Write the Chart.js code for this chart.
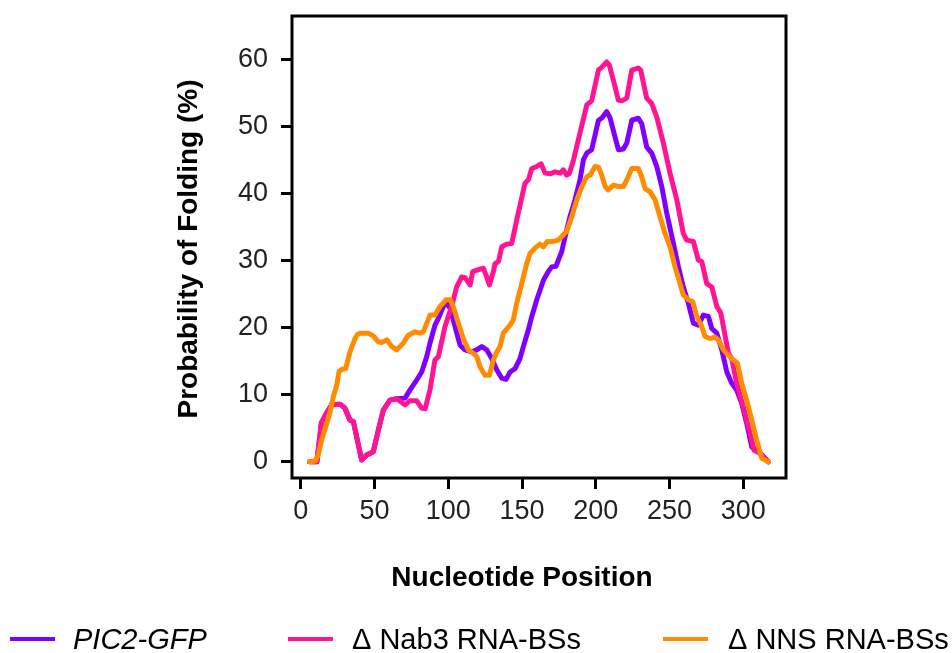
<!DOCTYPE html>
<html>
<head>
<meta charset="utf-8">
<script src="https://cdn.jsdelivr.net/npm/chart.js@4/dist/chart.umd.min.js"></script>
<style>
  html, body { margin: 0; padding: 0; background: #fff; }
</style>
</head>
<body>
<canvas id="chart" width="952" height="653"></canvas>
<script>
// folding probability along the transcript, three constructs
var pic2Pos = [6, 11, 14, 17.6, 21, 26.6, 30, 33.4, 35.7, 41.3, 44.7, 49.2, 52.6, 56, 60.5, 65, 70.7, 74, 78.6, 82, 85.4, 87.6, 91, 93.3, 96.7, 99, 101.2, 104.6, 108, 111.4, 115.9, 119.3, 122.7, 126.1, 129.5, 132.9, 136.2, 139.2, 141.9, 145.3, 148.6, 150.9, 154.3, 156.6, 160, 164.5, 167.8, 170.1, 173, 174.6, 176.9, 179.2, 182.5, 185.9, 189.3, 191.6, 193.9, 197.2, 201.8, 204, 207.4, 209.7, 213, 215.3, 218.7, 221, 224.4, 228.8, 231.1, 234.5, 237.9, 241.3, 244.7, 248.1, 252.6, 256, 259.3, 262.7, 266.1, 269.5, 272.9, 276.3, 278.6, 282, 285.4, 288.8, 292.2, 295.5, 298.9, 302.3, 305.7, 311.3, 317];
var pic2Prob = [0, 0, 5.8, 7.3, 8.5, 8.6, 8.0, 6.2, 6.0, 0.25, 1.0, 1.5, 4.7, 7.7, 9.2, 9.4, 9.5, 10.7, 12.2, 13.4, 15.7, 17.7, 20.4, 21.4, 23.2, 23.7, 22.9, 20.2, 17.4, 16.7, 16.4, 16.7, 17.2, 16.7, 15.4, 13.7, 12.5, 12.3, 13.4, 13.9, 15.4, 17.2, 19.7, 21.7, 24.2, 27.1, 28.4, 29.1, 29.2, 30.1, 31.4, 33.6, 36.6, 39.1, 42.1, 45.1, 46.1, 46.6, 51.0, 51.3, 52.3, 51.3, 48.5, 46.6, 46.7, 47.6, 51.0, 51.3, 50.5, 47.0, 46.1, 44.1, 41.1, 37.1, 32.6, 29.1, 26.1, 23.7, 20.7, 20.4, 21.9, 21.7, 19.9, 19.2, 16.7, 13.4, 11.7, 10.7, 8.7, 5.7, 2.2, 1.3, 0];

var nab3Pos = [6, 11, 14, 17.6, 21, 26.6, 30, 33.4, 35.7, 41.3, 44.7, 49.2, 52.6, 56, 60.5, 65, 70.7, 74, 78.6, 82, 84.3, 87.6, 91, 93.3, 97.8, 102.3, 105.7, 109.1, 111.4, 114.8, 116.6, 119.3, 123.8, 126.1, 127.9, 130.6, 131.7, 134, 136.3, 139.6, 143, 146.4, 152, 154.3, 156.6, 160, 162.9, 165.6, 169, 172.4, 175.8, 178, 180.3, 182, 184.8, 188.2, 193.9, 197.2, 201.8, 204, 207.4, 209.2, 211.9, 215.3, 217.6, 221, 224.4, 228.8, 230.4, 234.5, 237.9, 241.3, 245.8, 250.3, 254.9, 259.3, 261.6, 266.1, 269.5, 271.8, 275.2, 278.6, 282, 284.7, 289.9, 292.1, 295.5, 300, 304.6, 307.3, 311.3, 317];
var nab3Prob = [0, 0, 5.8, 7.3, 8.5, 8.6, 8.0, 6.2, 6.0, 0.25, 1.0, 1.5, 4.7, 7.7, 9.2, 9.4, 8.5, 9.1, 9.1, 8.0, 7.9, 10.7, 15.2, 15.7, 20.2, 23.2, 26.1, 27.6, 27.5, 26.4, 28.4, 28.6, 28.9, 27.6, 26.4, 28.4, 29.6, 29.9, 32.1, 32.5, 32.6, 36.1, 41.6, 42.1, 43.8, 44.1, 44.5, 43.1, 43.0, 43.3, 43.1, 43.6, 42.8, 43.0, 45.0, 48.1, 53.3, 53.9, 58.5, 58.9, 59.7, 59.2, 57.0, 54.0, 53.9, 54.3, 58.5, 58.8, 58.5, 54.3, 53.5, 51.5, 47.6, 43.1, 39.1, 34.1, 33.1, 32.9, 30.1, 29.9, 26.6, 26.1, 23.2, 22.2, 16.2, 15.4, 11.7, 8.2, 4.2, 1.7, 1.25, 0];

var nnsPos = [6, 9.7, 11.9, 14.2, 17.6, 20, 22.1, 24.5, 26, 28, 30.5, 33.4, 36.8, 38.5, 40.2, 45.8, 49.2, 52.6, 54.9, 58.3, 61.7, 65, 69.5, 72.9, 77.5, 80.9, 83.1, 87.6, 91, 94.4, 96.7, 98.5, 101.2, 103.4, 106.8, 110.2, 113.6, 117, 119.3, 121.5, 124.9, 127.9, 130.6, 132.9, 135.1, 137.3, 141.9, 144.1, 146.4, 149.8, 153.2, 155.4, 158.8, 162.2, 164.5, 167.2, 171.2, 174.6, 178, 180.3, 183.7, 187.1, 190.5, 193.9, 196.1, 199.5, 201.8, 204, 206.3, 208.5, 211.9, 215.3, 218.7, 221, 224.4, 228.8, 231.1, 233.4, 236.8, 240.2, 243.5, 246.9, 250.3, 253.7, 257.1, 259.3, 262.7, 265.7, 268.4, 271.8, 274, 277.4, 280.8, 283.1, 286.5, 289.9, 293.2, 296, 298.9, 302.3, 305.7, 309.1, 312.5, 317];
var nnsProb = [0, 0.1, 1.0, 3.2, 5.7, 7.5, 9.7, 11.5, 13.5, 13.8, 13.9, 16.4, 18.4, 19.0, 19.2, 19.2, 18.8, 17.9, 17.8, 18.2, 17.2, 16.7, 17.7, 18.9, 19.4, 19.2, 19.4, 21.9, 21.9, 23.2, 23.7, 24.2, 24.2, 23.2, 20.7, 18.4, 16.7, 16.2, 15.7, 14.2, 12.9, 12.9, 15.2, 16.4, 17.2, 19.2, 20.4, 21.2, 23.7, 26.6, 29.6, 31.1, 31.9, 32.5, 32.1, 32.9, 32.9, 33.1, 33.9, 34.4, 36.6, 39.1, 41.1, 42.6, 42.8, 44.1, 44.0, 42.8, 41.1, 40.6, 41.3, 41.1, 41.1, 42.1, 43.8, 43.8, 42.6, 40.8, 40.3, 39.1, 36.6, 34.1, 32.1, 29.1, 26.6, 24.9, 24.2, 23.9, 21.7, 20.2, 18.7, 18.4, 18.6, 18.2, 16.7, 15.9, 15.2, 14.7, 11.7, 9.2, 6.2, 3.2, 0.5, 0];

var seriesNames = ["PIC2-GFP", "\u0394 Nab3 RNA-BSs", "\u0394 NNS RNA-BSs"];
var seriesColors = ["#7f00ff", "#ff1493", "#ff8c00"];
var xTicks = [0, 50, 100, 150, 200, 250, 300];
var yTicks = [0, 10, 20, 30, 40, 50, 60];
var xTitle = "Nucleotide Position";
var yTitle = "Probability of Folding (%)";

const FONT = '"Liberation Sans", Arial, sans-serif';

function toPoints(xs, ys) {
  return xs.map((x, i) => ({ x: x, y: ys[i] }));
}

// orange drawn on top, purple underneath
const datasets = [
  { label: seriesNames[0], data: toPoints(pic2Pos, pic2Prob), order: 3 },
  { label: seriesNames[1], data: toPoints(nab3Pos, nab3Prob), order: 2 },
  { label: seriesNames[2], data: toPoints(nnsPos, nnsProb), order: 1 },
].map((d, i) => Object.assign(d, {
  borderColor: seriesColors[i],
  backgroundColor: seriesColors[i],
  borderWidth: 5,
  pointRadius: 0,
  tension: 0,
  borderJoinStyle: "round",
  borderCapStyle: "round",
}));

// no extra room around the scales, the box is placed by layout padding
function noScalePadding(s) {
  s.paddingTop = 0;
  s.paddingBottom = 0;
  s.paddingLeft = 0;
  s.paddingRight = 0;
}

// box, axis titles and bottom legend
const decorations = {
  id: "decorations",
  afterDraw(chart) {
    const ctx = chart.ctx;
    const a = chart.chartArea;
    ctx.save();
    ctx.strokeStyle = "#000";
    ctx.lineWidth = 3;
    ctx.strokeRect(a.left, a.top, a.right - a.left, a.bottom - a.top);

    ctx.fillStyle = "#000";
    ctx.font = "bold 28px " + FONT;
    ctx.textAlign = "center";
    ctx.textBaseline = "alphabetic";
    ctx.fillText(xTitle, 522, 586);
    ctx.save();
    ctx.translate(197, 249);
    ctx.rotate(-Math.PI / 2);
    ctx.fillText(yTitle, 0, 0);
    ctx.restore();

    const lineX = [10, 288, 663];
    const textX = [73, 352, 728];
    const ly = 639;
    ctx.textAlign = "left";
    ctx.lineCap = "butt";
    for (let i = 0; i < 3; i++) {
      ctx.strokeStyle = seriesColors[i];
      ctx.lineWidth = 4;
      ctx.beginPath();
      ctx.moveTo(lineX[i], ly);
      ctx.lineTo(lineX[i] + 45, ly);
      ctx.stroke();
      ctx.font = (i === 0 ? "italic " : "") + "29px " + FONT;
      ctx.fillText(seriesNames[i], textX[i], ly + 10);
    }
    ctx.restore();
  },
};

const ctx = document.getElementById("chart").getContext("2d");
const myChart = new Chart(ctx, {
  type: "line",
  data: { datasets: datasets },
  options: {
    responsive: false,
    animation: false,
    layout: { padding: { top: 16, right: 166, left: 0, bottom: 0 } },
    plugins: { legend: { display: false }, tooltip: { enabled: false } },
    scales: {
      x: {
        type: "linear",
        min: -5.9,
        max: 328.9,
        afterBuildTicks: (s) => { s.ticks = xTicks.map((v) => ({ value: v })); },
        afterFit: (s) => { s.height = 175; noScalePadding(s); },
        border: { display: false },
        grid: { drawOnChartArea: false, tickLength: 11, tickWidth: 3, tickColor: "#000" },
        ticks: { color: "#222", font: { family: FONT, size: 27 }, padding: 6, maxRotation: 0 },
      },
      y: {
        type: "linear",
        min: -2.43,
        max: 66.57,
        afterBuildTicks: (s) => { s.ticks = yTicks.map((v) => ({ value: v })); },
        afterFit: (s) => { s.width = 292; noScalePadding(s); },
        border: { display: false },
        grid: { drawOnChartArea: false, tickLength: 11, tickWidth: 3, tickColor: "#000" },
        ticks: { color: "#222", font: { family: FONT, size: 27 }, padding: 13 },
      },
    },
  },
  plugins: [decorations],
});
</script>
</body>
</html>
